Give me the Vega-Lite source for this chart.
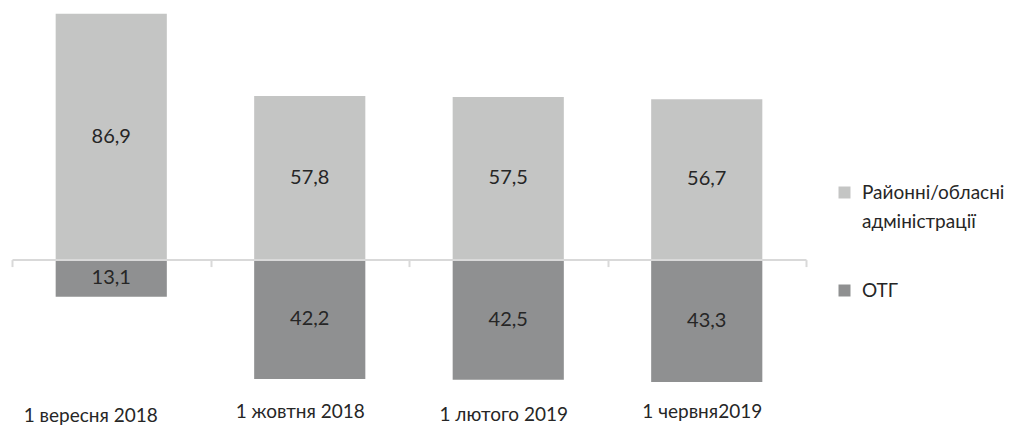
{
  "$schema": "https://vega.github.io/schema/vega-lite/v6.json",
  "width": 794,
  "height": 396,
  "padding": {"left": 12, "top": 5, "right": 207, "bottom": 25},
  "autosize": {"type": "none"},
  "config": {
    "view": {"stroke": null},
    "font": "Lato",
    "style": {"guide-label": {"lineHeight": 29}}
  },
  "data": {
    "values": [
      {"date": "1 вересня 2018", "series": "Районні/обласні адміністрації", "value": 86.9, "label": "86,9"},
      {"date": "1 вересня 2018", "series": "ОТГ", "value": -13.1, "label": "13,1"},
      {"date": "1 жовтня 2018", "series": "Районні/обласні адміністрації", "value": 57.8, "label": "57,8"},
      {"date": "1 жовтня 2018", "series": "ОТГ", "value": -42.2, "label": "42,2"},
      {"date": "1 лютого 2019", "series": "Районні/обласні адміністрації", "value": 57.5, "label": "57,5"},
      {"date": "1 лютого 2019", "series": "ОТГ", "value": -42.5, "label": "42,5"},
      {"date": "1 червня2019", "series": "Районні/обласні адміністрації", "value": 56.7, "label": "56,7"},
      {"date": "1 червня2019", "series": "ОТГ", "value": -43.3, "label": "43,3"}
    ]
  },
  "layer": [
    {
      "mark": {"type": "bar", "width": {"band": 0.56}},
      "encoding": {
        "x": {
          "field": "date", "type": "nominal", "sort": null,
          "scale": {"paddingInner": 0, "paddingOuter": 0},
          "axis": {
            "orient": "bottom", "offset": -141.4, "title": null, "labelAngle": 0,
            "domainColor": "#d9d9d9", "domainWidth": 2,
            "ticks": true, "tickColor": "#d9d9d9", "tickWidth": 2, "tickSize": 7, "tickBand": "extent",
            "labelFontSize": 19, "labelColor": "#262626", "labelFont": "Lato",
            "labelOffset": {
              "condition": [
                {"test": "datum.value == '1 вересня 2018'", "value": -21},
                {"test": "datum.value == '1 жовтня 2018'", "value": -10}
              ],
              "value": -5
            },
            "labelPadding": {
              "condition": [
                {"test": "datum.value == '1 вересня 2018'", "value": 140},
                {"test": "datum.value == '1 лютого 2019'", "value": 139}
              ],
              "value": 136
            },
            "zindex": 1
          }
        },
        "y": {"field": "value", "type": "quantitative", "stack": null, "scale": {"domain": [-50, 90]}, "axis": null},
        "color": {
          "field": "series", "type": "nominal",
          "scale": {"domain": ["Районні/обласні адміністрації", "ОТГ"], "range": ["#c4c5c4", "#8f9091"]},
          "legend": {
            "title": null, "orient": "none", "legendX": 823, "legendY": 178,
            "symbolType": "square", "symbolSize": 144, "symbolStrokeWidth": 0,
            "labelFontSize": 19, "labelColor": "#262626", "labelFont": "Lato",
            "labelOffset": 8, "labelLimit": 200, "rowPadding": 49, "padding": 0,
            "labelExpr": "datum.label == 'ОТГ' ? 'ОТГ' : ['Районні/обласні', 'адміністрації']"
          }
        }
      }
    },
    {
      "mark": {"type": "text", "fontSize": 20, "color": "#262626", "font": "Lato"},
      "encoding": {
        "x": {"field": "date", "type": "nominal", "sort": null},
        "y": {"field": "value", "type": "quantitative", "scale": {"domain": [-100, 180]}, "axis": null},
        "text": {"field": "label"}
      }
    }
  ],
  "resolve": {"scale": {"y": "independent"}}
}
